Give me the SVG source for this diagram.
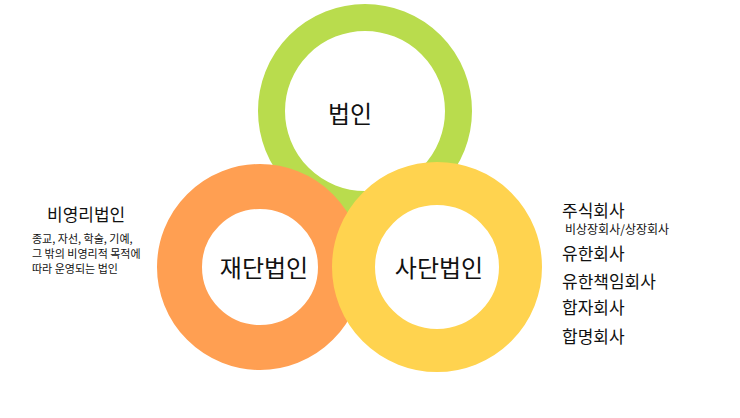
<svg xmlns="http://www.w3.org/2000/svg" width="740" height="418" viewBox="0 0 740 418">
<style>
text{font-family:"Noto Sans CJK KR","Noto Sans",sans-serif;fill:#111}
.big{font-size:24px;text-anchor:middle}
.m{font-size:17px}
.s{font-size:11px}
.r{font-size:12px}
</style>
<rect width="740" height="418" fill="#fff"/>
<g id="node-beopin"><circle cx="365" cy="111" r="93.5" fill="#fff" stroke="#b9dc4d" stroke-width="27"/><text class="big" x="350" y="123">법인</text></g>
<g id="node-jaedan"><circle cx="260" cy="267" r="80.5" fill="#fff" stroke="#ff9f52" stroke-width="45"/><text class="big" x="264" y="277">재단법인</text></g>
<g id="node-sadan"><circle cx="437" cy="267" r="83.5" fill="#fff" stroke="#ffd34f" stroke-width="43"/><text class="big" x="439" y="277">사단법인</text></g>
<g id="label-left">
<text class="m" x="47" y="221">비영리법인</text>
<text class="s" x="32" y="243">종교, 자선, 학술, 기예,</text>
<text class="s" x="32" y="258">그 밖의 비영리적 목적에</text>
<text class="s" x="32" y="273">따라 운영되는 법인</text>
</g>
<g id="label-right">
<text class="m" x="562" y="217">주식회사</text>
<text class="r" x="565" y="234">비상장회사/상장회사</text>
<text class="m" x="562" y="260">유한회사</text>
<text class="m" x="562" y="288">유한책임회사</text>
<text class="m" x="562" y="314">합자회사</text>
<text class="m" x="562" y="343">합명회사</text>
</g>
<g id="connectors"/>
</svg>
